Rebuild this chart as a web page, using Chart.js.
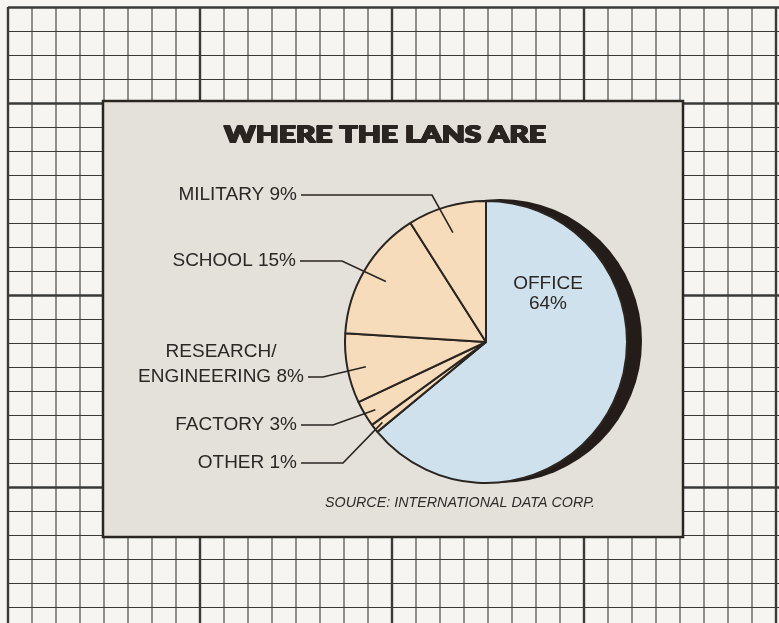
<!DOCTYPE html>
<html>
<head>
<meta charset="utf-8">
<script src="https://cdn.jsdelivr.net/npm/chart.js@4/dist/chart.umd.min.js"></script>
<style>
  html, body { margin: 0; padding: 0; background: #f6f5f1; }
  canvas { display: block; }
</style>
</head>
<body>
<canvas id="c" width="779" height="623"></canvas>
<script>
// ---- data ----
const categories = ['OFFICE', 'OTHER', 'FACTORY', 'RESEARCH/ENGINEERING', 'SCHOOL', 'MILITARY'];
const shares = [64, 1, 3, 8, 15, 9];
const labelTexts = [
  ['OFFICE', '64%'],
  ['OTHER 1%'],
  ['FACTORY 3%'],
  ['RESEARCH/', 'ENGINEERING 8%'],
  ['SCHOOL 15%'],
  ['MILITARY 9%']
];
const titleText = 'WHERE THE LANS ARE';
const sourceText = 'SOURCE: INTERNATIONAL DATA CORP.';

// ---- styles ----
const INK = '#2b2522';
const OFFICE_BLUE = '#cfe1ed';
const PEACH = '#f7dcbc';
const PANEL = '#e3e1da';
const PAPER = '#f6f5f1';
const GRID = '#3a3a38';

// label layout: text position + elbow of leader line; anchor inside slice (fraction of slice angle, fraction of radius)
const labelLayout = [
  null,
  { x: 297, y: 463, align: 'right', lineStart: 301, elbow: 343, frac: 0.5, rf: 0.93 },
  { x: 297, y: 425, align: 'right', lineStart: 301, elbow: 333, frac: 0.42, rf: 0.92 },
  { x: 221, y: 352, align: 'center', lineStart: 308, lineY: 377, elbow: 323, frac: 0.47, rf: 0.87 },
  { x: 296, y: 261, align: 'right', lineStart: 300, elbow: 342, frac: 0.51, rf: 0.83 },
  { x: 297, y: 195, align: 'right', lineStart: 301, elbow: 432, frac: 0.48, rf: 0.81 }
];

const backgroundPlugin = {
  id: 'paper',
  beforeDraw(chart) {
    const ctx = chart.ctx;
    const W = chart.width, H = chart.height;
    ctx.save();
    ctx.fillStyle = PAPER;
    ctx.fillRect(0, 0, W, H);
    ctx.strokeStyle = GRID;
    // vertical lines
    for (let k = 0; 8 + 24 * k <= W; k++) {
      const x = 8 + 24 * k;
      ctx.lineWidth = (k % 8 === 0) ? 2.4 : 1.1;
      ctx.beginPath(); ctx.moveTo(x, 7); ctx.lineTo(x, H); ctx.stroke();
    }
    // horizontal lines
    for (let k = 0; 7.5 + 24 * k <= H; k++) {
      const y = 7.5 + 24 * k;
      ctx.lineWidth = (k === 0 || k % 8 === 4) ? 2.4 : 1.1;
      ctx.beginPath(); ctx.moveTo(8, y); ctx.lineTo(W, y); ctx.stroke();
    }
    // panel
    ctx.fillStyle = PANEL;
    ctx.fillRect(103, 101, 580, 436);
    ctx.lineWidth = 2.5;
    ctx.strokeStyle = INK;
    ctx.strokeRect(103, 101, 580, 436);

    // title (heavy)
    ctx.font = '900 23px Lato, "DejaVu Sans", sans-serif';
    ctx.textBaseline = 'alphabetic';
    ctx.textAlign = 'left';
    const tw = ctx.measureText(titleText).width;
    const targetW = 322;
    ctx.translate(223, 143);
    ctx.scale(targetW / tw, 1);
    ctx.fillStyle = INK;
    for (const dx of [0, 0.5, 1.0, 1.5]) {
      for (const dy of [0, -0.6]) {
        ctx.fillText(titleText, dx, dy);
      }
    }
    ctx.restore();
  },
  beforeDatasetsDraw(chart) {
    // drop shadow crescent
    const arc = chart.getDatasetMeta(0).data[0];
    if (!arc) return;
    const ctx = chart.ctx;
    ctx.save();
    ctx.fillStyle = '#231c19';
    ctx.beginPath();
    ctx.arc(arc.x + 14, arc.y - 1, arc.outerRadius + 1, 0, Math.PI * 2);
    ctx.fill();
    ctx.restore();
  },
  afterDatasetsDraw(chart) {
    const ctx = chart.ctx;
    const meta = chart.getDatasetMeta(0);
    ctx.save();
    ctx.fillStyle = '#2a2725';
    ctx.strokeStyle = INK;
    ctx.lineWidth = 1.6;
    ctx.font = '19px "Liberation Sans", Arial, sans-serif';
    ctx.textBaseline = 'middle';
    // office label inside slice
    ctx.textAlign = 'center';
    ctx.fillText(labelTexts[0][0], 548, 284);
    ctx.fillText(labelTexts[0][1], 548, 304);

    for (let i = 1; i < labelTexts.length; i++) {
      const L = labelLayout[i];
      const a = meta.data[i];
      const ang = a.startAngle + (a.endAngle - a.startAngle) * L.frac;
      const ax = a.x + Math.cos(ang) * a.outerRadius * L.rf;
      const ay = a.y + Math.sin(ang) * a.outerRadius * L.rf;
      const lines = labelTexts[i];
      ctx.textAlign = L.align;
      lines.forEach((t, j) => ctx.fillText(t, L.x, L.y + j * 25));
      const ly = L.lineY !== undefined ? L.lineY : L.y;
      ctx.beginPath();
      ctx.moveTo(L.lineStart, ly);
      ctx.lineTo(L.elbow, ly);
      ctx.lineTo(ax, ay);
      ctx.stroke();
    }

    // source
    ctx.font = 'italic 14px "Liberation Sans", Arial, sans-serif';
    ctx.textAlign = 'left';
    ctx.fillStyle = '#2e2b29';
    const sw = ctx.measureText(sourceText).width;
    ctx.translate(325, 503);
    ctx.scale(270 / sw, 1);
    ctx.fillText(sourceText, 0, 0);
    ctx.restore();
  }
};

new Chart(document.getElementById('c'), {
  type: 'pie',
  data: {
    labels: categories,
    datasets: [{
      data: shares,
      backgroundColor: [OFFICE_BLUE, PEACH, PEACH, PEACH, PEACH, PEACH],
      borderColor: INK,
      borderWidth: 2,
      borderAlign: 'center'
    }]
  },
  options: {
    responsive: false,
    animation: false,
    layout: { padding: { left: 344, top: 200, right: 151, bottom: 139 } },
    plugins: {
      legend: { display: false },
      tooltip: { enabled: false },
      title: { display: false }
    }
  },
  plugins: [backgroundPlugin]
});
</script>
</body>
</html>
